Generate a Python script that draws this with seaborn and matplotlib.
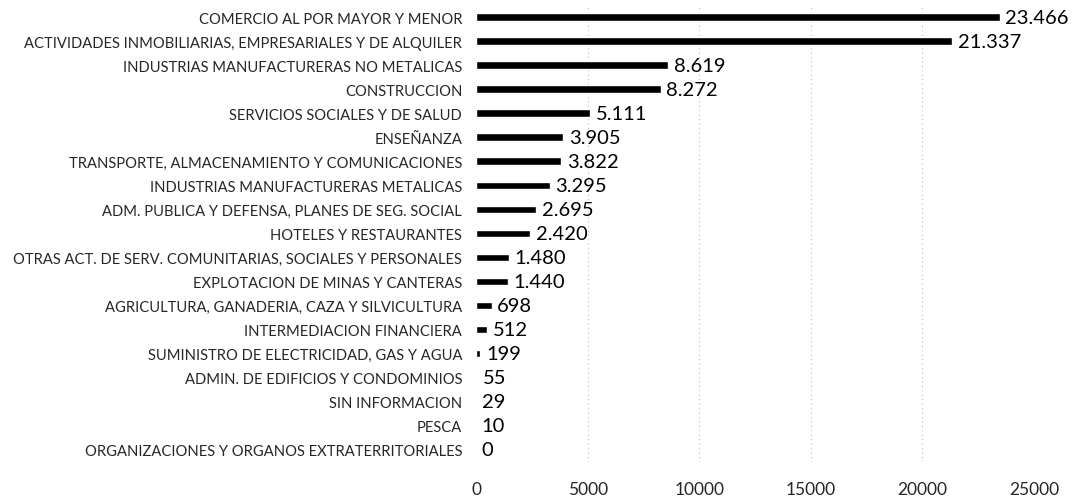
import pandas as pd
import matplotlib.pyplot as plt
import seaborn as sns

# Data
sectores = [
    'COMERCIO AL POR MAYOR Y MENOR',
    'ACTIVIDADES INMOBILIARIAS, EMPRESARIALES Y DE ALQUILER',
    'INDUSTRIAS MANUFACTURERAS NO METALICAS',
    'CONSTRUCCION',
    'SERVICIOS SOCIALES Y DE SALUD',
    'ENSEÑANZA',
    'TRANSPORTE, ALMACENAMIENTO Y COMUNICACIONES',
    'INDUSTRIAS MANUFACTURERAS METALICAS',
    'ADM. PUBLICA Y DEFENSA, PLANES DE SEG. SOCIAL',
    'HOTELES Y RESTAURANTES',
    'OTRAS ACT. DE SERV. COMUNITARIAS, SOCIALES Y PERSONALES',
    'EXPLOTACION DE MINAS Y CANTERAS',
    'AGRICULTURA, GANADERIA, CAZA Y SILVICULTURA',
    'INTERMEDIACION FINANCIERA',
    'SUMINISTRO DE ELECTRICIDAD, GAS Y AGUA',
    'ADMIN. DE EDIFICIOS Y CONDOMINIOS',
    'SIN INFORMACION',
    'PESCA',
    'ORGANIZACIONES Y ORGANOS EXTRATERRITORIALES',
]
valores = [23466, 21337, 8619, 8272, 5111, 3905, 3822, 3295, 2695, 2420,
           1480, 1440, 698, 512, 199, 55, 29, 10, 0]
x_ticks = [0, 5000, 10000, 15000, 20000, 25000]

df = pd.DataFrame({'Sector': sectores, 'Valor': valores})

sns.set_style('white')
plt.rcParams['font.family'] = ['Lato', 'DejaVu Sans']

fig = plt.figure(figsize=(10.76, 5.02), dpi=100)
ax = fig.add_axes([0.4424, 0.078, 0.5186, 0.91])

sns.barplot(data=df, x='Valor', y='Sector', orient='h', color='black',
            width=0.32, ax=ax, saturation=1)

# faint dotted gridlines
for t in x_ticks[1:]:
    ax.axvline(t, color='#bbbbbb', linestyle=(0, (1, 3)), linewidth=0.8, zorder=0)

# value labels with dot thousands separator
for i, v in enumerate(valores):
    txt = f"{v:,}".replace(",", ".")
    ax.annotate(txt, xy=(v, i), xytext=(4, 0), textcoords='offset points',
                va='center', ha='left', fontsize=14.5, color='black')

ax.set_xlim(0, 25000)
ax.set_ylim(len(sectores) - 0.5, -0.5)
ax.set_xticks(x_ticks)
ax.set_xticklabels([str(t) for t in x_ticks], fontsize=12.5)
ax.tick_params(axis='x', length=0, pad=14)
ax.tick_params(axis='y', length=0, pad=10, labelsize=10.6)
ax.set_xlabel('')
ax.set_ylabel('')
sns.despine(ax=ax, left=True, bottom=True)

fig.savefig('out.png', dpi=100)
